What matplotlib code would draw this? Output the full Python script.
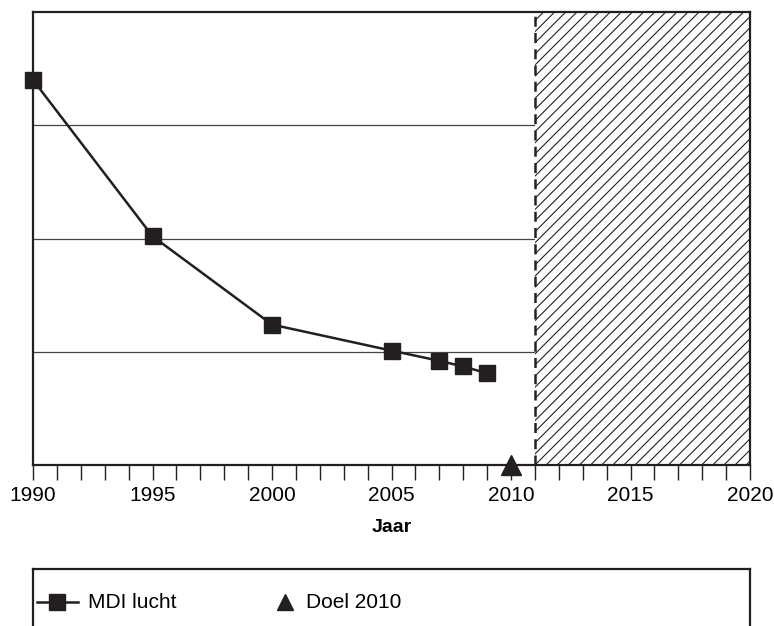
import numpy as np
import matplotlib.pyplot as plt

plt.rcParams['font.family'] = ['Liberation Sans', 'DejaVu Sans']
plt.rcParams['hatch.linewidth'] = 0.8

# MDI lucht (index, no y labels in source)
jaren = [1990, 1995, 2000, 2005, 2007, 2008, 2009]
mdi = [3.40, 2.02, 1.24, 1.01, 0.92, 0.87, 0.81]
doel_jaar = [2010]
doel = [0.0]
prognose_start = 2011
grid_levels = [1, 2, 3]
xticks_major = [1990, 1995, 2000, 2005, 2010, 2015, 2020]

fig = plt.figure(figsize=(7.74, 6.26), dpi=100)
ax = fig.add_axes([33 / 774, 1 - 465 / 626, 717 / 774, 453 / 626])

ax.set_xlim(1990, 2020)
ax.set_ylim(0, 4)

for g in grid_levels:
    ax.axhline(g, color='#444444', lw=0.9, zorder=1)

ax.axvspan(prognose_start, 2020, facecolor='white', edgecolor='#222222',
           hatch='///', lw=0, zorder=2)
ax.axvline(prognose_start, color='#222222', lw=1.8, ls=(0, (4, 2.5)), zorder=3)

ax.plot(jaren, mdi, color='#231f20', lw=1.8, marker='s', ms=12, zorder=4,
        clip_on=False)
ax.plot(doel_jaar, doel, ls='none', marker='^', ms=14, color='#231f20',
        clip_on=False, zorder=7)

for s in ax.spines.values():
    s.set_linewidth(1.6)
    s.set_color('#231f20')
    s.set_zorder(6)

ax.set_yticks([])
ax.set_xticks(xticks_major)
ax.set_xticks(np.arange(1990, 2021, 1), minor=True)
ax.tick_params(axis='x', which='both', direction='out', length=11, width=1,
               color='#231f20', labelsize=15, pad=4)
ax.set_xlabel('Jaar', fontsize=14, fontweight='bold', labelpad=10)

# legend box
lg = fig.add_axes([33 / 774, 1 - 640 / 626, 717 / 774, 71 / 626])
lg.set_xlim(0, 1)
lg.set_ylim(0, 1)
lg.set_xticks([])
lg.set_yticks([])
for s in lg.spines.values():
    s.set_linewidth(1.6)
    s.set_color('#231f20')
ly = 0.535
lg.plot([4 / 717, 45 / 717], [ly, ly], color='#231f20', lw=1.8)
lg.plot([24 / 717], [ly], marker='s', ms=12, color='#231f20')
lg.text(55 / 717, ly, 'MDI lucht', fontsize=15, va='center', ha='left')
lg.plot([252 / 717], [ly], marker='^', ms=11, color='#231f20')
lg.text(273 / 717, ly, 'Doel 2010', fontsize=15, va='center', ha='left')

fig.savefig('out.png', dpi=100)
